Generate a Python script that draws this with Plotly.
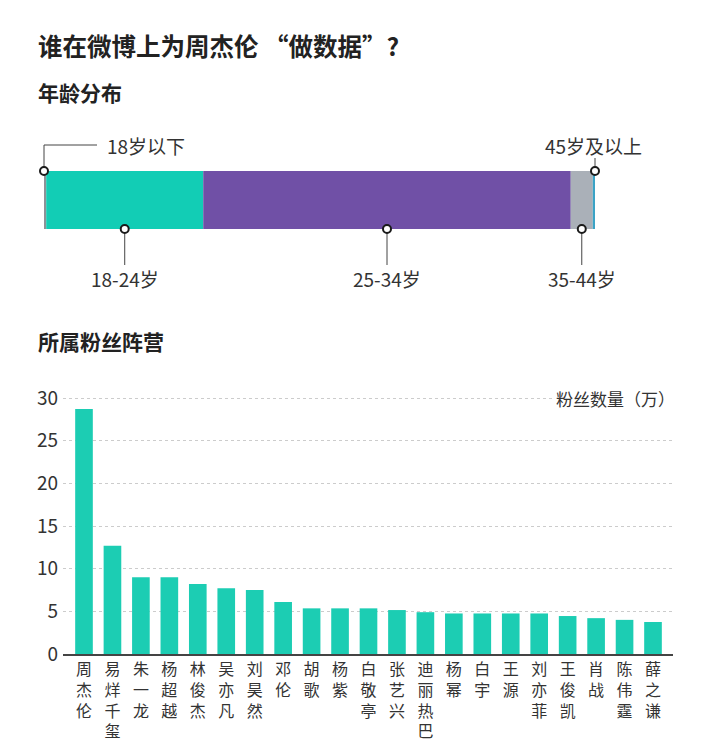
import plotly.graph_objects as go

W, H = 720, 742
FONT = "Noto Sans CJK SC"

# ---------------- data ----------------
title_text = "谁在微博上为周杰伦 “做数据”?"
age_title = "年龄分布"
fans_title = "所属粉丝阵营"

age_groups = ["18岁以下", "18-24岁", "25-34岁", "35-44岁", "45岁及以上"]
age_share = [0.4, 28.5, 66.7, 4.0, 0.4]
age_colors = ["#8d9298", "#12cdb5", "#7050a6", "#aab0b8", "#3aa3c6"]

stars = ["周杰伦", "易烊千玺", "朱一龙", "杨超越", "林俊杰", "吴亦凡", "刘昊然",
         "邓伦", "胡歌", "杨紫", "白敬亭", "张艺兴", "迪丽热巴", "杨幂", "白宇",
         "王源", "刘亦菲", "王俊凯", "肖战", "陈伟霆", "薛之谦"]
fans = [28.7, 12.7, 9.0, 9.0, 8.2, 7.7, 7.5, 6.1, 5.35, 5.35, 5.35, 5.15,
        4.9, 4.75, 4.75, 4.75, 4.75, 4.45, 4.2, 4.0, 3.75]
y_ticks = [0, 5, 10, 15, 20, 25, 30]
y_unit = "粉丝数量（万）"

BAR_COLOR = "#1ccdb3"
TEXT = "#333333"


def py(px):
    """pixel row -> paper y"""
    return 1 - px / H


def pxx(px):
    return px / W


fig = go.Figure()

# ---------------- age distribution (x2 / y2) ----------------
A_L, A_R = 44, 595            # bar left/right pixel
A_T, A_B = 171, 229           # bar top/bottom pixel
sx = (A_R - A_L) / sum(age_share)   # px per percent
sy = (A_B - A_T) / 1.0              # px per y unit (bar width = 1)
dom_l, dom_r, dom_t, dom_b = 20, 700, 125, 300
x2_range = [(dom_l - A_L) / sx, sum(age_share) + (dom_r - A_R) / sx]
y2_range = [-0.5 - (dom_b - A_B) / sy, 0.5 + (A_T - dom_t) / sy]

starts = []
acc = 0
for v in age_share:
    starts.append(acc)
    acc += v

for g, v, b, c in zip(age_groups, age_share, starts, age_colors):
    fig.add_trace(go.Bar(x=[v], y=[0], base=[b], orientation="h", width=1,
                         marker=dict(color=c, line=dict(width=0)),
                         xaxis="x2", yaxis="y2", name=g, showlegend=False,
                         hoverinfo="name+x"))

total = sum(age_share)
centers = [b + v / 2 for b, v in zip(starts, age_share)]
mk_x = [0, centers[1], centers[2], centers[3], total]
mk_y = [0.5, -0.5, -0.5, -0.5, 0.5]

top_lbl_y = 0.5 + (A_T - 145) / sy
right_line_top = 0.5 + (A_T - 158) / sy
bot_line_end = -0.5 - (265 - A_B) / sy
bot_lbl_y = -0.5 - (278 - A_B) / sy

lx, ly = [], []
# 18岁以下 elbow
lx += [0, 0, (97 - A_L) / sx, None]
ly += [0.5, top_lbl_y, top_lbl_y, None]
# bottom leaders
for cx in mk_x[1:4]:
    lx += [cx, cx, None]
    ly += [-0.5, bot_line_end, None]
# 45岁及以上
lx += [total, total, None]
ly += [0.5, right_line_top, None]

fig.add_trace(go.Scatter(x=lx, y=ly, mode="lines", xaxis="x2", yaxis="y2",
                         line=dict(color="#444444", width=1), hoverinfo="skip",
                         showlegend=False))
fig.add_trace(go.Scatter(x=mk_x, y=mk_y, mode="markers", xaxis="x2", yaxis="y2",
                         marker=dict(size=8, color="white",
                                     line=dict(color="#1a1a1a", width=2)),
                         cliponaxis=False, hoverinfo="skip", showlegend=False))

LBL = 19
annos = []
annos.append(dict(x=(105 - A_L) / sx, y=top_lbl_y, xref="x2", yref="y2",
                  text=age_groups[0], xanchor="left", yanchor="middle",
                  showarrow=False, font=dict(size=LBL, color=TEXT, family=FONT)))
annos.append(dict(x=total + (644 - A_R) / sx, y=top_lbl_y, xref="x2", yref="y2",
                  text=age_groups[4], xanchor="right", yanchor="middle",
                  showarrow=False, font=dict(size=LBL, color=TEXT, family=FONT)))
for i in (1, 2, 3):
    annos.append(dict(x=mk_x[i], y=bot_lbl_y, xref="x2", yref="y2",
                      text=age_groups[i], xanchor="center", yanchor="middle",
                      showarrow=False, font=dict(size=LBL, color=TEXT, family=FONT)))

# ---------------- fan bar chart (x / y) ----------------
fig.add_trace(go.Bar(x=list(range(len(stars))), y=fans, width=0.62,
                     marker=dict(color=BAR_COLOR, line=dict(width=0)),
                     name="粉丝数量", showlegend=False,
                     hovertext=stars, hoverinfo="text+y"))

B_L, B_R = 63, 673
B_0, B_TOP = 654, 394
first_c, last_c = 84, 653
step = (last_c - first_c) / (len(stars) - 1)
x_range = [-(first_c - B_L) / step, (len(stars) - 1) + (B_R - last_c) / step]
y_range = [0, (B_0 - B_TOP) / ((B_0 - 398) / 30)]

# titles
annos.append(dict(x=pxx(36), y=py(45), xref="paper", yref="paper", text="<b>" + title_text + "</b>",
                  xanchor="left", yanchor="middle", showarrow=False,
                  font=dict(size=24.5, color="#222222", family=FONT)))
annos.append(dict(x=pxx(36), y=py(92), xref="paper", yref="paper", text="<b>" + age_title + "</b>",
                  xanchor="left", yanchor="middle", showarrow=False,
                  font=dict(size=21, color="#222222", family=FONT)))
annos.append(dict(x=pxx(36), y=py(341), xref="paper", yref="paper", text="<b>" + fans_title + "</b>",
                  xanchor="left", yanchor="middle", showarrow=False,
                  font=dict(size=21, color="#222222", family=FONT)))
annos.append(dict(x=pxx(679), y=py(398), xref="paper", yref="paper", text=y_unit,
                  xanchor="right", yanchor="middle", showarrow=False, bgcolor="white",
                  borderpad=3, font=dict(size=17, color=TEXT, family=FONT)))

fig.update_layout(
    width=W, height=H,
    margin=dict(l=0, r=0, t=0, b=0, autoexpand=False),
    paper_bgcolor="white", plot_bgcolor="white",
    font=dict(family=FONT, color=TEXT),
    barmode="overlay",
    showlegend=False,
    annotations=annos,
    xaxis=dict(domain=[pxx(B_L), pxx(B_R)], range=x_range,
               tickmode="array", tickvals=list(range(len(stars))),
               ticktext=["<br>".join(list(s)) for s in stars],
               tickfont=dict(size=16, color=TEXT, family=FONT),
               showgrid=False, zeroline=False, ticks="",
               showline=True, linecolor="#444444", linewidth=1.5,
               automargin=False, fixedrange=True),
    yaxis=dict(domain=[py(B_0), py(B_TOP)], range=y_range,
               tickmode="array", tickvals=y_ticks,
               tickfont=dict(size=19, color=TEXT, family=FONT),
               ticklabelstandoff=4,
               showgrid=True, gridcolor="#cccccc", griddash="dot", gridwidth=1,
               zeroline=False, ticks="", showline=False,
               automargin=False, fixedrange=True),
    xaxis2=dict(domain=[pxx(dom_l), pxx(dom_r)], range=x2_range, visible=False,
                anchor="y2", fixedrange=True),
    yaxis2=dict(domain=[py(dom_b), py(dom_t)], range=y2_range, visible=False,
                anchor="x2", fixedrange=True),
)

fig.write_html("out.html", config={"displayModeBar": False},
               post_script="document.body.style.margin='0px';")
